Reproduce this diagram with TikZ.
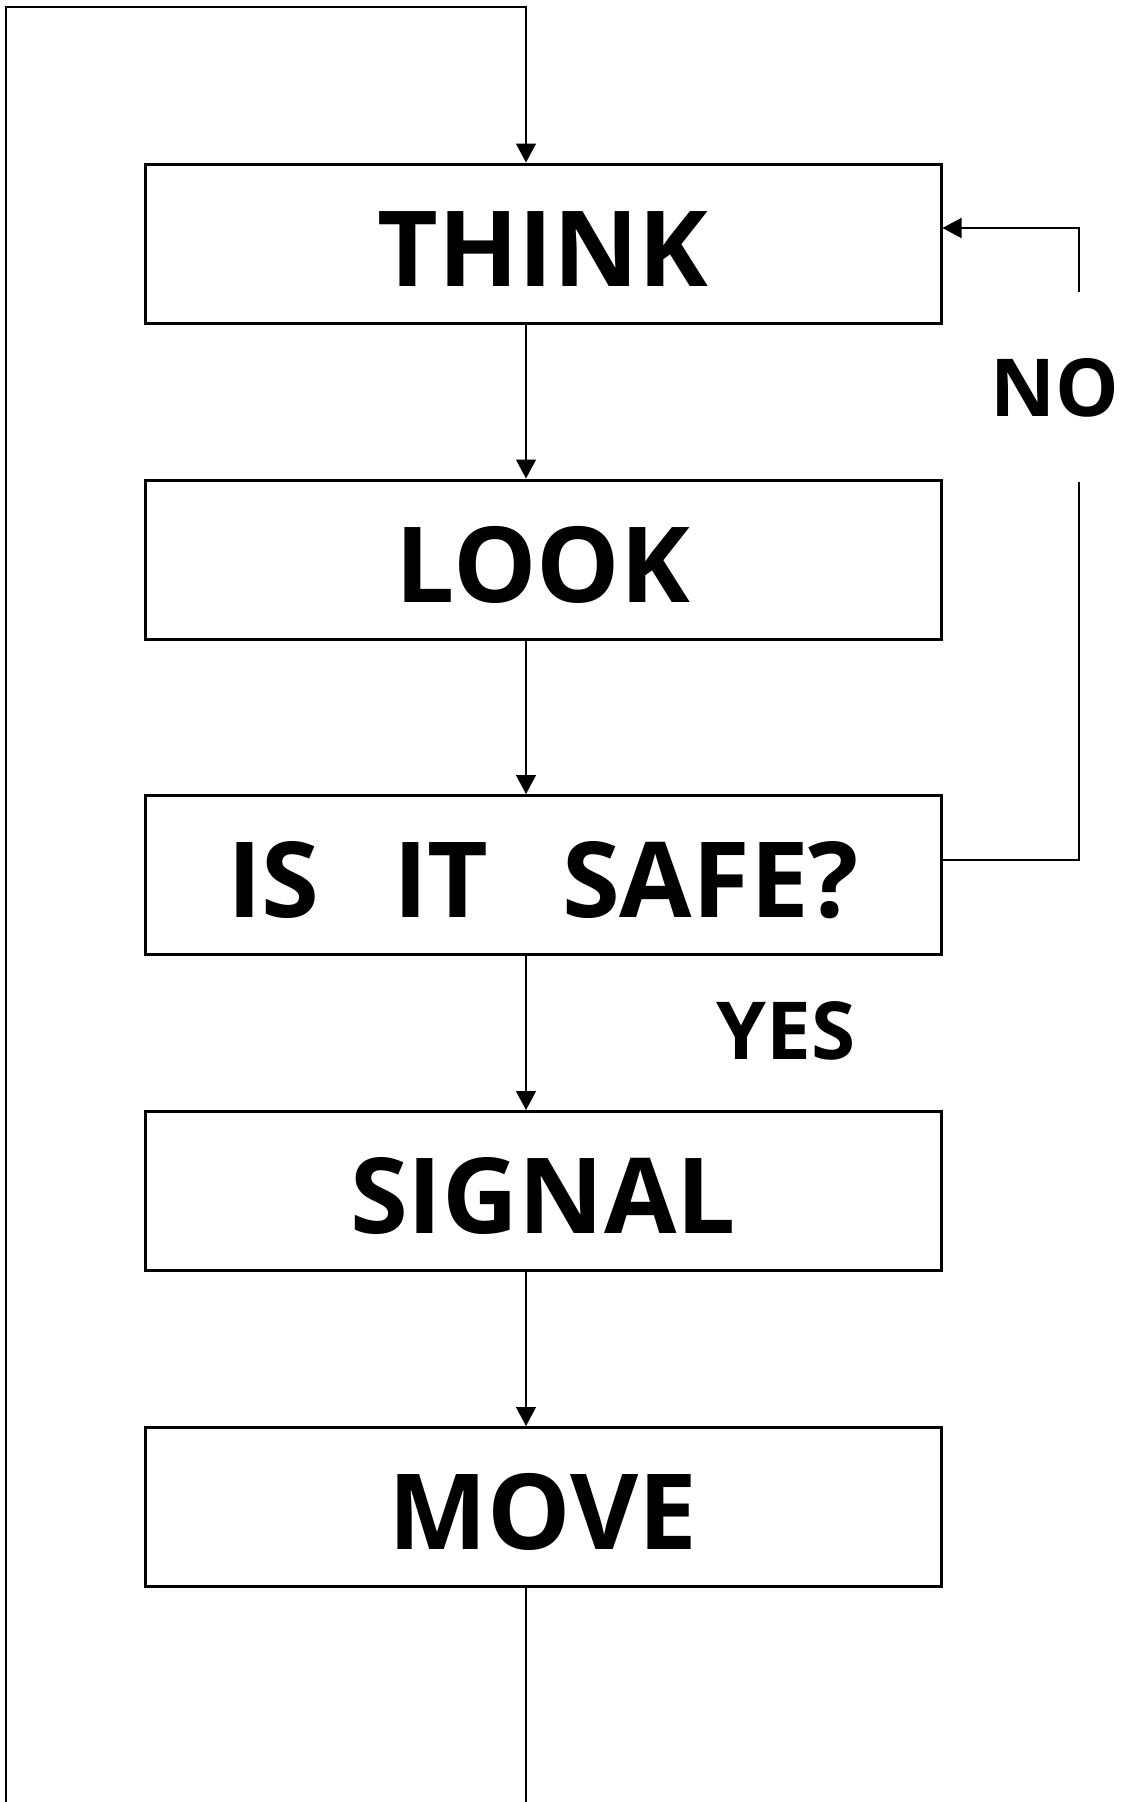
\documentclass[tikz,border=0pt]{standalone}
\usepackage{fontspec}
\setmainfont{Open Sans}
\usetikzlibrary{arrows.meta}
\tikzset{
  stepbox/.style={draw, line width=3pt, minimum width=796pt, minimum height=159pt, inner sep=0pt, text height=85pt, text depth=0pt, font=\fontsize{105}{110}\selectfont\bfseries},
  conn/.style={line width=1.3pt},
  arr/.style={conn, -{Triangle[length=19pt,width=20pt]}},
  lbl/.style={inner sep=0pt, font=\fontsize{80}{84}\selectfont\bfseries}
}
\begin{document}
\begin{tikzpicture}[x=1pt,y=-1pt]
\useasboundingbox (0,0) rectangle (1120,1802);
\node[stepbox] (think) at (543,243.5) {THINK};
\node[stepbox] (look) at (543,559.5) {LOOK};
\node[stepbox] (safe) at (543,875) {IS\hspace{0.7em}IT\hspace{0.7em}SAFE?};
\node[stepbox] (signal) at (543,1191) {SIGNAL};
\node[stepbox] (move) at (543,1507) {MOVE};
\node[lbl] (no) at (1055,388) {NO};
\node[lbl] (yes) at (786,1031) {YES};
\coordinate (topl) at (6,7);
\coordinate (topr) at (526,7);
\coordinate (botl) at (6,1802);
\coordinate (botr) at (526,1802);
\coordinate (loopa) at (1079,860);
\coordinate (loopb) at (1079,482);
\coordinate (loopc) at (1079,292);
\coordinate (loopd) at (1079,228);
\coordinate (thinkr) at (think.east |- loopd);
\draw[arr] (topr |- think.south) -- (topr |- look.north);
\draw[arr] (topr |- look.south) -- (topr |- safe.north);
\draw[arr] (topr |- safe.south) -- (topr |- signal.north);
\draw[arr] (topr |- signal.south) -- (topr |- move.north);
\draw[conn] (topr |- move.south) -- (botr);
\draw[arr] (botl) -- (topl) -- (topr) -- (topr |- think.north);
\draw[conn] (safe.east |- loopa) -- (loopa) -- (loopb);
\draw[arr] (loopc) -- (loopd) -- (thinkr);
\end{tikzpicture}
\end{document}
